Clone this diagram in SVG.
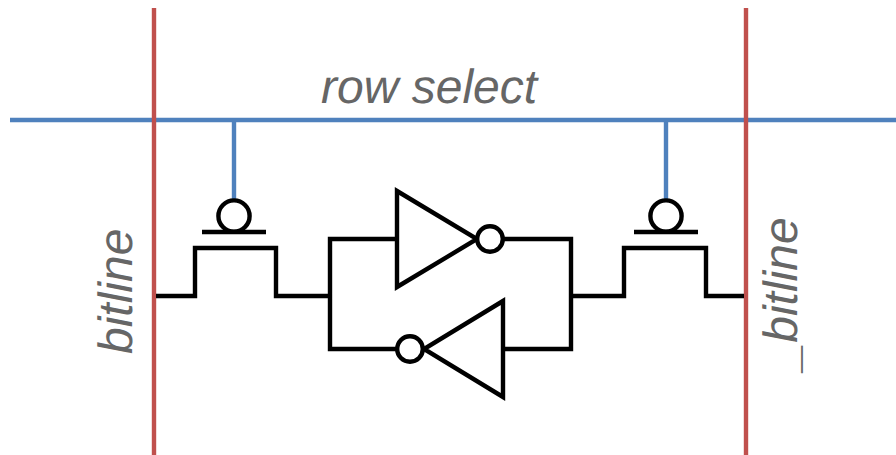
<svg xmlns="http://www.w3.org/2000/svg" width="896" height="455" viewBox="0 0 896 455">
<style>
.w{fill:none;stroke:#000;stroke-width:4.4;stroke-linejoin:miter}
.g{fill:#fff;stroke:#000;stroke-width:4.4}
.s{fill:none;stroke-width:4.4}
.b{stroke:#4f81bd}
.r{stroke:#c0504d}
.t{font-family:"Liberation Sans",Arial,sans-serif;font-style:italic;font-size:48px;fill:#666;text-rendering:geometricPrecision}
</style>
<rect width="896" height="455" fill="#fff"/>
<g id="connectors">
<path class="s b" d="M10 120H896M234 120V199M666 120V199"/>
<path class="s r" d="M154 8V455M746 8V455"/>
<path class="w" d="M156 296H195V248H276V296H330M397 239H330V349H398M503 239H571V349H503M571 296H624V248H706V296H744"/>
</g>
<g id="transistor-left">
<circle class="g" cx="234" cy="216" r="15.6"/>
<path class="w" d="M202 232H266"/>
</g>
<g id="transistor-right">
<circle class="g" cx="666" cy="216" r="15.6"/>
<path class="w" d="M634 232H698"/>
</g>
<g id="inverter-top">
<path class="g" d="M397 191L477 239L397 287Z"/>
<circle class="g" cx="490" cy="239" r="12.8"/>
</g>
<g id="inverter-bottom">
<path class="g" d="M503 301L424 349L503 397Z"/>
<circle class="g" cx="410" cy="349" r="12.8"/>
</g>
<g id="label-row-select"><text class="t" x="321" y="103">row select</text></g>
<g id="label-bitline"><text class="t" transform="translate(132 354) rotate(-90)">bitline</text></g>
<g id="label-bitline-bar"><text class="t" transform="translate(797 369.5) rotate(-90)">_bitline</text></g>
</svg>
